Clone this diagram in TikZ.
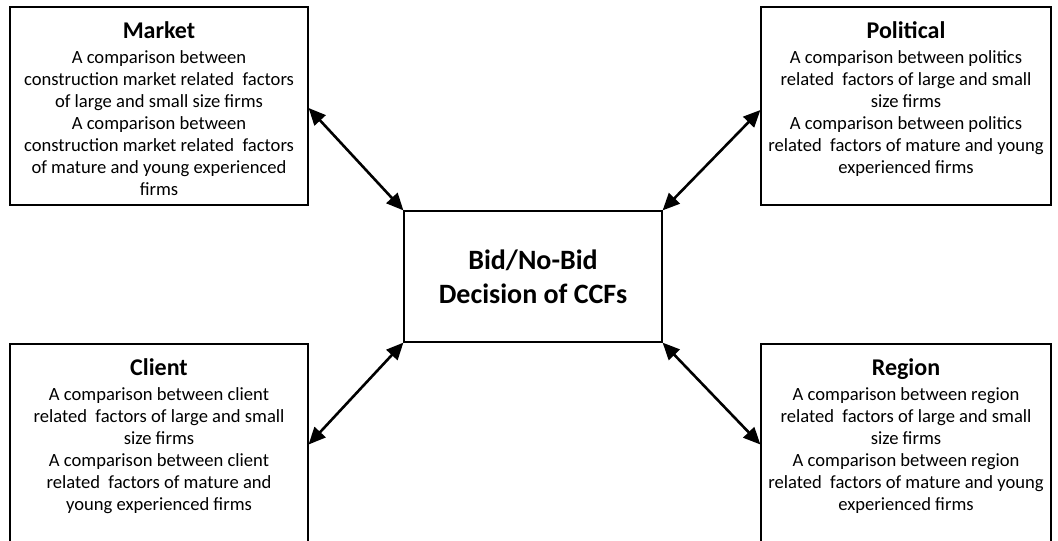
\documentclass[tikz,border=0pt]{standalone}
\usepackage{fontspec}
\setmainfont{Carlito}
\usetikzlibrary{calc,arrows.meta}

\begin{document}
\begin{tikzpicture}[x=1pt, y=-1pt,
  factorbox/.style={draw, line width=1.2pt, inner sep=0pt},
  factortext/.style={anchor=north, align=center, inner sep=0pt, font=\fontsize{18.6}{22}\selectfont},
  linkarrow/.style={line width=2.6pt, {Triangle[length=17pt,width=15pt]}-{Triangle[length=17pt,width=15pt]}}]

\useasboundingbox (0,0) rectangle (1058,541);

\node[factorbox, minimum width=298pt, minimum height=198pt] (market) at (159,106) {};
\node[factorbox, minimum width=290pt, minimum height=198pt] (political) at (906,106) {};
\node[factorbox, minimum width=298pt, minimum height=201pt] (client) at (159,444.5) {};
\node[factorbox, minimum width=290pt, minimum height=201pt] (region) at (906,444.5) {};
\node[factorbox, minimum width=258pt, minimum height=131pt, align=center,
  font=\bfseries\fontsize{28}{34}\selectfont] (decision) at (533,276.5) {Bid/No-Bid\\Decision of CCFs};


\node[factortext] (marketText) at ($(market.north) + (0,15)$)
  {{\bfseries\fontsize{24}{28}\selectfont Market}\\[3pt]A comparison between\\construction market related~ factors\\of large and small size firms\\A comparison between\\construction market related~ factors\\of mature and young experienced\\firms};
\node[factortext] (politicalText) at ($(political.north) + (0,15)$)
  {{\bfseries\fontsize{24}{28}\selectfont Political}\\[3pt]A comparison between politics\\related~ factors of large and small\\size firms\\A comparison between politics\\related~ factors of mature and young\\experienced firms};
\node[factortext] (clientText) at ($(client.north) + (0,15)$)
  {{\bfseries\fontsize{24}{28}\selectfont Client}\\[3pt]A comparison between client\\related~ factors of large and small\\size firms\\A comparison between client\\related~ factors of mature and\\young experienced firms};
\node[factortext] (regionText) at ($(region.north) + (0,15)$)
  {{\bfseries\fontsize{24}{28}\selectfont Region}\\[3pt]A comparison between region\\related~ factors of large and small\\size firms\\A comparison between region\\related~ factors of mature and young\\experienced firms};


\draw[linkarrow] ($(market.east) + (0,2)$) -- (decision.north west);
\draw[linkarrow] ($(political.west) + (0,4)$) -- (decision.north east);
\draw[linkarrow] (client.east) -- (decision.south west);
\draw[linkarrow] (region.west) -- (decision.south east);

\end{tikzpicture}
\end{document}
